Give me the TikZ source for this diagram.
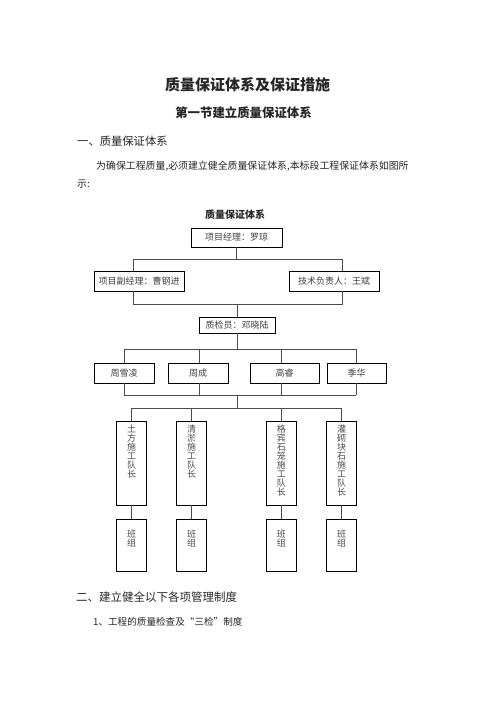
\documentclass[tikz,border=0pt]{standalone}
\usepackage{fontspec}
\setmainfont{Liberation Serif}
\newfontfamily\cjk{Noto Sans CJK SC}
\begin{document}
\begin{tikzpicture}[x=1pt,y=-1pt,
  box/.style={draw=black,line width=0.8pt,fill=white,inner sep=0pt,font=\cjk\fontsize{9}{9}\selectfont,text=black!75},
  conn/.style={draw=black!70,line width=0.8pt},
  vtxt/.style={anchor=north,inner sep=0pt,align=center,font=\cjk\fontsize{9}{9}\selectfont,text=black!70},
  body/.style={inner sep=0pt,text=black!85}]
\fill[white] (0,0) rectangle (496,702);
\useasboundingbox (0,0) rectangle (496,702);
% texts
\node[body,font=\cjk\bfseries\fontsize{15}{15}\selectfont] (title) at (247.5,85) {质量保证体系及保证措施};
\node[body,font=\cjk\bfseries\fontsize{12.4}{12.4}\selectfont] (sec) at (243.5,113) {第一节建立质量保证体系};
\node[body,anchor=west,font=\cjk\fontsize{11.3}{11.3}\selectfont] (h1) at (77,141) {一、质量保证体系};
\node[body,anchor=west,font=\cjk\fontsize{9.9}{9.9}\selectfont] (p1) at (96,166) {为确保工程质量,必须建立健全质量保证体系,本标段工程保证体系如图所};
\node[body,anchor=west,font=\cjk\fontsize{9.9}{9.9}\selectfont] (p2) at (77,184) {示:};
\node[body,font=\cjk\bfseries\fontsize{10}{10}\selectfont] (dtitle) at (235,215) {质量保证体系};
\node[body,anchor=west,font=\cjk\fontsize{11.5}{11.5}\selectfont] (h2) at (76,597) {二、建立健全以下各项管理制度};
\node[body,anchor=west,font=\cjk\fontsize{9.6}{9.6}\selectfont] (p3) at (93,622) {1、工程的质量检查及“三检”制度};
% boxes
\node[box,minimum width=91pt,minimum height=19pt] (pm) at (236.5,237.5) {项目经理：罗琼};
\node[box,minimum width=90pt,minimum height=20pt] (dpm) at (139,281) {项目副经理：曹钢进};
\node[box,minimum width=90pt,minimum height=20pt] (tech) at (334,281) {技术负责人：王斌};
\node[box,minimum width=76pt,minimum height=16pt] (qc) at (237,325) {质检员：邓晓陆};
\node[box,minimum width=60pt,minimum height=20pt] (r1) at (124,373) {周雪凌};
\node[box,minimum width=60pt,minimum height=20pt] (r2) at (198,373) {周成};
\node[box,minimum width=69pt,minimum height=20pt] (r3) at (284.5,373) {高睿};
\node[box,minimum width=59pt,minimum height=20pt] (r4) at (356.5,373) {季华};
\foreach \n/\x in {1/131.7,2/191.5,3/281.3,4/341.5}{
  \node[box,minimum width=30pt,minimum height=84pt] (t\n) at (\x,463) {};
  \node[box,minimum width=30pt,minimum height=52pt] (s\n) at (\x,545) {};
}
\node[vtxt] (t1x) at (131.7,424.5) {土\\方\\施\\工\\队\\长};
\node[vtxt] (t2x) at (191.5,424.5) {清\\淤\\施\\工\\队\\长};
\node[vtxt] (t3x) at (281.3,424.5) {格\\宾\\石\\笼\\施\\工\\队\\长};
\node[vtxt] (t4x) at (341.5,424.5) {灌\\砌\\块\\石\\施\\工\\队\\长};
\foreach \n in {1,...,4}{
  \node[vtxt] (s\n x) at ([yshift=-11.5pt]s\n.north) {班\\组};
}
% connector coordinates
\coordinate (L1) at (133,259); \coordinate (R1) at (342,259);
\coordinate (L2) at (133,304); \coordinate (R2) at (342,304);
\coordinate (L3) at (124,349); \coordinate (R3) at (356,349);
\coordinate (L4) at (124,395); \coordinate (R4) at (356,395);
\coordinate (L5) at (131.7,408); \coordinate (R5) at (341.5,408);
\coordinate (c2) at (199.7,0); \coordinate (c3) at (281.7,0);
% connectors
\draw[conn,line width=1.3pt] (pm.south) -- (pm.south |- L1);
\draw[conn] (dpm.north -| L1) -- (L1) -- (R1) -- (tech.north -| R1);
\draw[conn] (dpm.south -| L2) -- (L2) -- (R2) -- (tech.south -| R2);
\draw[conn] (qc.north) -- (qc.north |- L2);
\draw[conn] (qc.south) -- (qc.south |- L3);
\draw[conn] (L3) -- (R3);
\draw[conn] (L4) -- (R4);
\draw[conn] (r1.north) -- (r1.north |- L3); \draw[conn] (r1.south) -- (r1.south |- L4);
\draw[conn] (r2.north -| c2) -- (c2 |- L3); \draw[conn] (r2.south -| c2) -- (c2 |- L4);
\draw[conn] (r3.north -| c3) -- (c3 |- L3); \draw[conn] (r3.south -| c3) -- (c3 |- L4);
\draw[conn] (r4.north) -- (r4.north |- L3); \draw[conn] (r4.south) -- (r4.south |- L4);
\draw[conn] (qc.south |- L4) -- (qc.south |- L5);
\draw[conn] (L5) -- (R5);
\foreach \n in {1,...,4}{
  \draw[conn] (t\n.north) -- (t\n.north |- L5);
  \draw[conn] (t\n.south) -- (s\n.north);
}
\end{tikzpicture}
\end{document}
